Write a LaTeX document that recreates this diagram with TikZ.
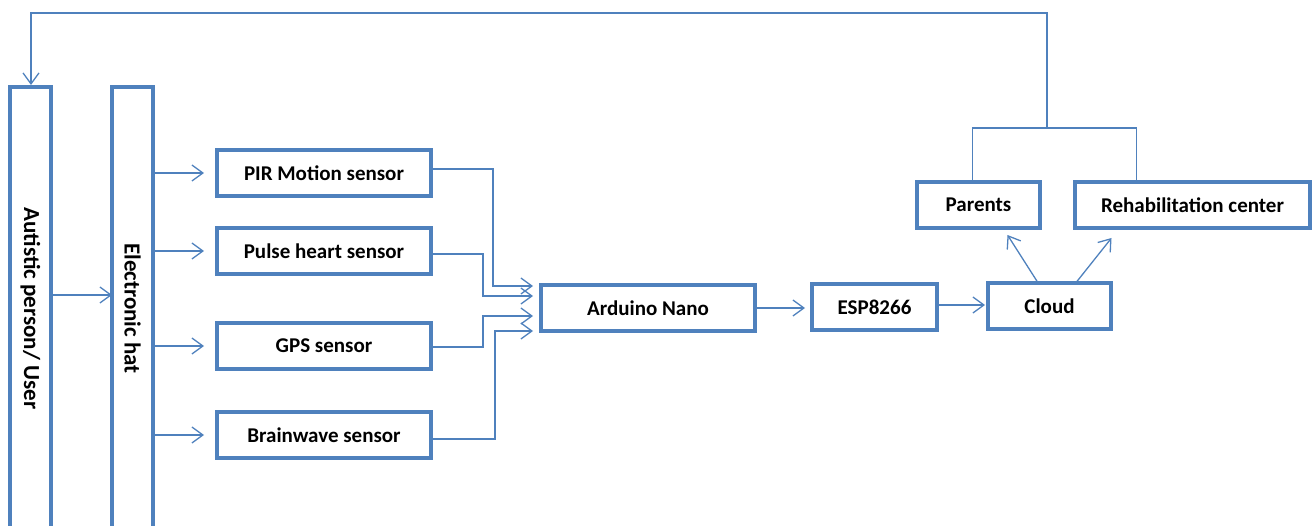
\documentclass[tikz,border=0pt]{standalone}
\usepackage{fontspec}
\setmainfont{Carlito}
\usepackage{graphicx}
\usetikzlibrary{arrows.meta}
\definecolor{boxblue}{RGB}{79,129,189}

\begin{document}
\begin{tikzpicture}[x=1pt, y=-1pt,
    block/.style={draw=boxblue, line width=3.5pt, inner sep=0pt, outer sep=0pt,
        minimum height=46pt, font=\bfseries\fontsize{21}{25}\selectfont},
    tall/.style={block, minimum width=41pt, minimum height=443pt,
        font=\bfseries\fontsize{23}{27}\selectfont},
    line/.style={draw=boxblue, line width=1.3pt},
    flow/.style={line, -{Straight Barb[length=11pt, width=16pt, line width=1.3pt]}}]
    \useasboundingbox (0,0) rectangle (1312,526);

    % Create blocks
    \node[tall] (user) at (30.5,308.5) {\rotatebox{-90}{Autistic person/ User}};
    \node[tall] (hat) at (132.5,308.5) {\rotatebox{-90}{Electronic hat}};
    \node[block, minimum width=214pt] (pir) at (324,173) {PIR Motion sensor};
    \node[block, minimum width=214pt] (pulse) at (324,251) {Pulse heart sensor};
    \node[block, minimum width=214pt] (gps) at (324,346) {GPS sensor};
    \node[block, minimum width=214pt] (brain) at (324,435) {Brainwave sensor};
    \node[block, minimum width=214pt] (nano) at (648,308) {Arduino Nano};
    \node[block, minimum width=125pt] (esp) at (874.5,307) {ESP8266};
    \node[block, minimum width=123pt] (cloud) at (1049.5,306) {Cloud};
    \node[block, minimum width=123pt] (parents) at (978.5,205) {Parents};
    \node[block, minimum width=235pt] (rehab) at (1192.5,205) {Rehabilitation center};
    \coordinate (fork) at (1047,128);
    \coordinate (back) at (31,13);

    % Draw connectors
    \draw[flow, shorten <=2pt] (user.east |- 0,295) -- (hat.west |- 0,295);
    \draw[flow, shorten >=13pt] (hat.east |- pir) -- (pir.west);
    \draw[flow, shorten >=13pt] (hat.east |- pulse) -- (pulse.west);
    \draw[flow, shorten >=13pt] (hat.east |- gps) -- (gps.west);
    \draw[flow, shorten >=13pt] (hat.east |- brain) -- (brain.west);
    \draw[flow, shorten >=8pt] ([yshift=4pt]pir.east) -- ++(62,0) |- ([yshift=22pt]nano.west);
    \draw[flow, shorten >=8pt] ([yshift=-3pt]pulse.east) -- ++(52,0) |- ([yshift=12pt]nano.west);
    \draw[flow, shorten >=8pt] ([yshift=-1pt]gps.east) -- ++(52,0) |- ([yshift=-8pt]nano.west);
    \draw[flow, shorten >=8pt] ([yshift=-4pt]brain.east) -- ++(64,0) |- ([yshift=-23pt]nano.west);
    \draw[flow, shorten <=2pt, shorten >=7pt] (nano.east) -- (esp.west |- nano.east);
    \draw[flow, shorten <=2pt, shorten >=3pt] ([yshift=2pt]esp.east) -- ([yshift=2pt]esp.east -| cloud.west);
    \draw[flow] ([xshift=-12pt, yshift=1pt]cloud.north) -- ([xshift=29pt, yshift=-7pt]parents.south);
    \draw[flow] ([xshift=27pt, yshift=1pt]cloud.north) -- ([xshift=-81pt, yshift=-10pt]rehab.south);
    \draw[line] ([xshift=-6pt]parents.north) |- (fork) -| ([xshift=-56pt]rehab.north);
    \draw[flow, shorten >=2pt] (fork) |- (back) -- (user.north -| back);
\end{tikzpicture}
\end{document}
